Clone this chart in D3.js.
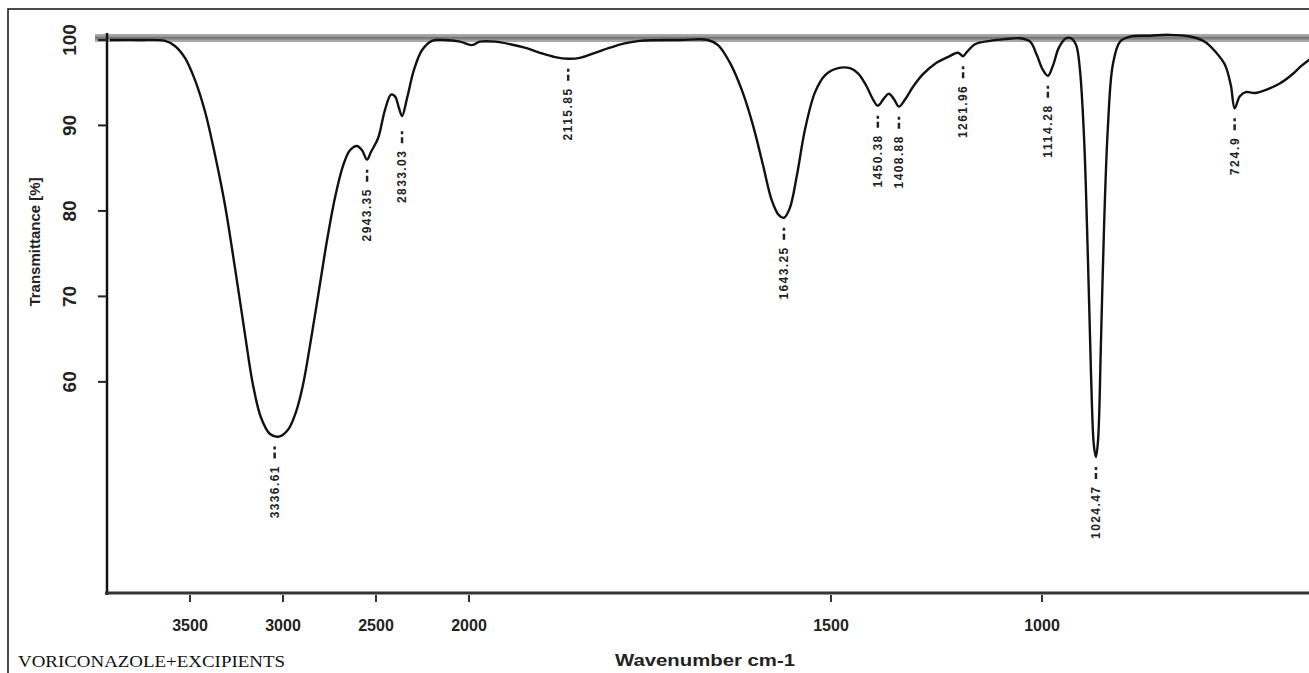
<!DOCTYPE html>
<html>
<head>
<meta charset="utf-8">
<script src="https://cdn.jsdelivr.net/npm/d3@7"></script>
<style>
    body { margin: 0; background: #fff; }
    svg { display: block; }
</style>
</head>
<body>
<div id="chart"></div>
<script>
// spectrum trace (axis units as printed on the picture)
const waveNumbers = [3930, 3769, 3634, 3581, 3527, 3473, 3419, 3366, 3312, 3258, 3204, 3161, 3118, 3070, 3022, 2973, 2930, 2893, 2850, 2806, 2763, 2720, 2677, 2640, 2602, 2575, 2548, 2527, 2489, 2452, 2419, 2398, 2376, 2360, 2333, 2296, 2253, 2199, 2129, 2048, 1996, 1985, 1964, 1943, 1923, 1902, 1881, 1863, 1847, 1826, 1805, 1785, 1764, 1709, 1670, 1656, 1640, 1623, 1608, 1594, 1582, 1572, 1565, 1557, 1547, 1536, 1522, 1508, 1483, 1455, 1436, 1417, 1400, 1389, 1374, 1363, 1351, 1339, 1325, 1306, 1282, 1254, 1223, 1199, 1187, 1178, 1159, 1123, 1088, 1052, 1028, 1012, 998, 986, 974, 960, 943, 931, 919, 910, 900, 891, 884, 877, 872, 867, 860, 853, 844, 832, 815, 791, 744, 697, 649, 614, 588, 566, 552, 543, 531, 517, 495, 467, 436, 408, 384, 360];
const transmittance = [100, 100, 99.9, 99.3, 97.9, 95.3, 91.6, 86.6, 80.7, 73.3, 65.5, 59.6, 55.8, 53.9, 53.6, 54.4, 56.5, 59.6, 64.9, 70.8, 76.6, 81.6, 85.3, 87.1, 87.6, 87.1, 86.0, 86.9, 88.5, 91.8, 93.6, 93.4, 92.0, 91.1, 93.2, 96.5, 98.8, 99.9, 100, 99.8, 99.4, 99.8, 99.8, 99.5, 99.1, 98.5, 98.0, 97.8, 97.9, 98.5, 99.1, 99.6, 99.9, 100, 100, 99.4, 97.4, 94.1, 90.1, 85.4, 81.3, 79.5, 79.2, 80.3, 84.2, 89.5, 93.9, 95.9, 96.7, 96.7, 96.1, 94.7, 93.0, 92.3, 93.2, 93.7, 93.1, 92.2, 93.0, 94.5, 96.0, 97.2, 98.0, 98.5, 98.1, 98.6, 99.5, 99.9, 100.1, 100.2, 99.8, 98.2, 96.5, 95.8, 97.0, 99.1, 100.2, 100.2, 99.4, 96.5, 88.3, 74.3, 61.4, 52.6, 51.2, 53.2, 64.9, 77.8, 89.5, 97.1, 99.8, 100.4, 100.5, 100.6, 100.4, 99.8, 98.6, 97.1, 94.7, 92.0, 93.4, 93.9, 93.8, 94.2, 94.9, 95.9, 97.0, 97.9];

// peak markers
const peakAt = [3045, 2548, 2360, 1863, 1565, 1389, 1339, 1187, 986, 872, 543];
const peakDepth = [53.6, 86.0, 90.5, 97.8, 79.2, 92.3, 92.2, 98.1, 95.8, 51.2, 92.0];
const peakText = ['3336.61', '2943.35', '2833.03', '2115.85', '1643.25', '1450.38', '1408.88', '1261.96', '1114.28', '1024.47', '724.9'];

// axis ticks
const xTicks = [3500, 3000, 2500, 2000, 1500, 1000];
const yTicks = [100, 90, 80, 70, 60];

const width = 1309;
const height = 673;

const svg = d3.select('#chart')
    .append('svg')
    .attr('width', width)
    .attr('height', height);

// x axis is not uniform on the original plot (expanded below 2000)
const x = d3.scaleLinear()
    .domain([3946, 3500, 2000, 1500, 1000, 350])
    .range([107, 190, 469, 831, 1042, 1316]);

const y = d3.scaleLinear()
    .domain([35.3, 100.23])
    .range([593, 38]);

// picture border
svg.append('path')
    .attr('d', `M8,${height} L8,9 L${width},9`)
    .attr('fill', 'none')
    .attr('stroke', '#111')
    .attr('stroke-width', 1.5);

// grey top frame
svg.append('line')
    .attr('x1', 95).attr('x2', width)
    .attr('y1', y(100.23)).attr('y2', y(100.23))
    .attr('stroke', '#a8a8a8')
    .attr('stroke-width', 8);
svg.append('line')
    .attr('x1', 95).attr('x2', width)
    .attr('y1', y(100.23)).attr('y2', y(100.23))
    .attr('stroke', '#7c7c7c')
    .attr('stroke-width', 3);

// Y axis
const yAxis = svg.append('g')
    .attr('transform', 'translate(107,0)');
yAxis.append('line')
    .attr('y1', 33).attr('y2', 595)
    .attr('stroke', '#111')
    .attr('stroke-width', 2.5);
yAxis.selectAll('.ytick')
    .data(yTicks)
    .enter()
    .append('line')
    .attr('class', 'ytick')
    .attr('x1', -9).attr('x2', 0)
    .attr('y1', d => y(d)).attr('y2', d => y(d))
    .attr('stroke', '#222')
    .attr('stroke-width', 2);

// tick labels are printed sideways on the original
const yLab = yAxis.selectAll('.ylab')
    .data(yTicks)
    .enter()
    .append('g')
    .attr('class', 'ylab')
    .attr('transform', d => `translate(-38,${y(d)})`);
yLab.append('text')
    .attr('transform', 'rotate(-90)')
    .attr('text-anchor', 'middle')
    .attr('dy', '0.35em')
    .style('font-family', 'Liberation Sans, Arial, sans-serif')
    .style('font-size', '19px')
    .style('font-weight', '700')
    .style('fill', '#222')
    .text(d => d);

svg.append('g')
    .attr('transform', 'translate(35,242)')
    .append('text')
    .attr('transform', 'rotate(-90)')
    .attr('text-anchor', 'middle')
    .attr('dy', '0.35em')
    .style('font-family', 'Liberation Sans, Arial, sans-serif')
    .style('font-size', '15px')
    .style('font-weight', '700')
    .style('fill', '#222')
    .text('Transmittance [%]');

// X axis
const xAxis = svg.append('g')
    .attr('transform', 'translate(0,593)');
xAxis.append('line')
    .attr('x1', 105).attr('x2', width)
    .attr('stroke', '#333')
    .attr('stroke-width', 3);
xAxis.selectAll('.xtick')
    .data(xTicks)
    .enter()
    .append('line')
    .attr('class', 'xtick')
    .attr('x1', d => x(d)).attr('x2', d => x(d))
    .attr('y1', 2).attr('y2', 9)
    .attr('stroke', '#333')
    .attr('stroke-width', 2);
xAxis.selectAll('.xlab')
    .data(xTicks)
    .enter()
    .append('text')
    .attr('class', 'xlab')
    .attr('x', d => x(d))
    .attr('y', 38)
    .attr('text-anchor', 'middle')
    .style('font-family', 'Liberation Sans, Arial, sans-serif')
    .style('font-size', '16px')
    .style('font-weight', '700')
    .style('fill', '#222')
    .text(d => d);

svg.append('text')
    .attr('x', 615)
    .attr('y', 666)
    .attr('textLength', 180)
    .attr('lengthAdjust', 'spacingAndGlyphs')
    .style('font-family', 'Liberation Sans, Arial, sans-serif')
    .style('font-size', '16px')
    .style('font-weight', '700')
    .style('fill', '#222')
    .text('Wavenumber cm-1');

svg.append('text')
    .attr('x', 18)
    .attr('y', 667)
    .attr('textLength', 267)
    .attr('lengthAdjust', 'spacingAndGlyphs')
    .style('font-family', 'Liberation Serif, Times New Roman, serif')
    .style('font-size', '16px')
    .style('fill', '#111')
    .text('VORICONAZOLE+EXCIPIENTS');

// spectrum
const points = waveNumbers.map((w, i) => ({ w: w, t: transmittance[i] }));
const line = d3.line()
    .x(d => x(d.w))
    .y(d => y(d.t))
    .curve(d3.curveCatmullRom.alpha(0.5));

svg.append('path')
    .datum(points)
    .attr('fill', 'none')
    .attr('stroke', '#111')
    .attr('stroke-width', 2.4)
    .attr('stroke-linejoin', 'round')
    .attr('d', line);

// peak labels
const peaks = peakAt.map((p, i) => ({ w: p, t: peakDepth[i], label: peakText[i] }));
const pk = svg.selectAll('.peak')
    .data(peaks)
    .enter()
    .append('g')
    .attr('class', 'peak')
    .attr('transform', d => `translate(${x(d.w)},${y(d.t)})`);
pk.append('line')
    .attr('y1', 10).attr('y2', 22)
    .attr('stroke', '#222')
    .attr('stroke-width', 2.5)
    .attr('stroke-dasharray', '3,3,6');
pk.append('text')
    .attr('transform', 'translate(0,30) rotate(-90)')
    .attr('text-anchor', 'end')
    .attr('dy', '0.35em')
    .attr('textLength', d => d.label.length * 7.4)
    .attr('lengthAdjust', 'spacing')
    .style('font-family', 'Liberation Sans, Arial, sans-serif')
    .style('font-size', '12px')
    .style('font-weight', '700')
    .style('fill', '#222')
    .text(d => d.label);
</script>
</body>
</html>
